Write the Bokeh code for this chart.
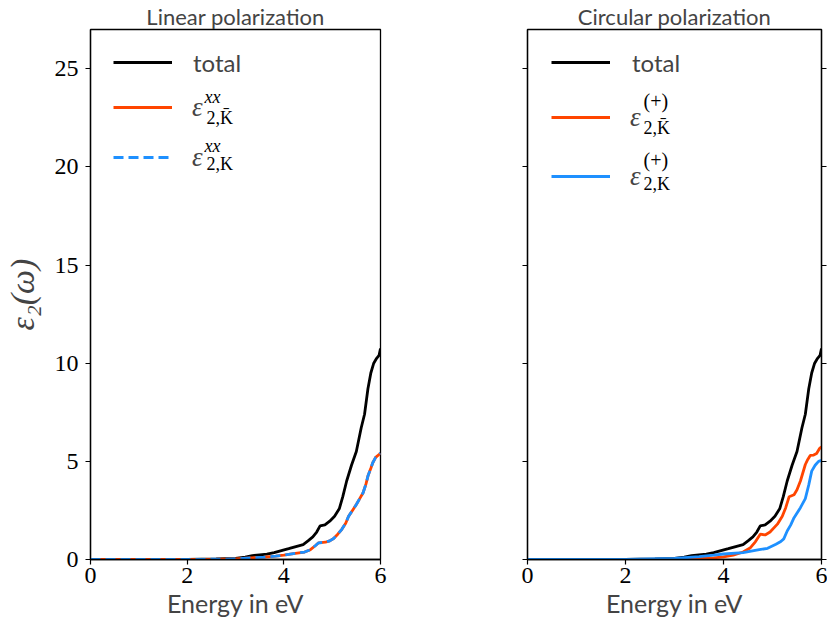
from bokeh.plotting import figure
from bokeh.models import Range1d, FixedTicker, LinearAxis, Legend, LegendItem, Label
from bokeh.layouts import row
from bokeh.embed import file_html
from bokeh.resources import INLINE

# ---------------- data ----------------
x_ticks = [0, 2, 4, 6]
y_ticks = [0, 5, 10, 15, 20, 25]

# total epsilon_2 (same in both panels)
e_total = [0.0, 1.0, 2.0, 2.6, 3.0, 3.2, 3.35, 3.5, 3.65, 3.8, 3.95, 4.1, 4.25, 4.4, 4.5,
           4.6, 4.68, 4.75, 4.85, 4.95, 5.05, 5.15, 5.22, 5.3, 5.4, 5.5, 5.6, 5.67, 5.74,
           5.8, 5.86, 5.92, 5.97, 6.0]
v_total = [0.0, 0.0, 0.01, 0.03, 0.06, 0.12, 0.2, 0.24, 0.27, 0.35, 0.45, 0.55, 0.66, 0.76, 0.95,
           1.15, 1.4, 1.71, 1.76, 1.95, 2.2, 2.6, 3.2, 4.0, 4.8, 5.5, 6.7, 7.4, 8.7,
           9.5, 10.0, 10.25, 10.4, 10.75]

# linear polarization: K-bar and K contributions (identical)
e_lin = [0.0, 1.0, 2.0, 2.6, 3.0, 3.3, 3.6, 3.83, 4.0, 4.2, 4.43, 4.55, 4.65, 4.72, 4.86, 4.95,
         5.03, 5.12, 5.2, 5.28, 5.34, 5.42, 5.5, 5.57, 5.64, 5.7, 5.74, 5.8, 5.84, 5.9, 5.97, 6.0]
v_lin_kbar = [0.0, 0.0, 0.005, 0.015, 0.03, 0.08, 0.12, 0.17, 0.22, 0.3, 0.38, 0.5, 0.7, 0.85, 0.88, 0.95,
              1.07, 1.3, 1.54, 1.85, 2.2, 2.5, 2.8, 3.1, 3.4, 3.85, 4.25, 4.65, 4.93, 5.2, 5.35, 5.42]
v_lin_k = [0.0, 0.0, 0.005, 0.015, 0.03, 0.08, 0.12, 0.17, 0.22, 0.3, 0.38, 0.5, 0.7, 0.85, 0.88, 0.95,
           1.07, 1.3, 1.54, 1.85, 2.2, 2.5, 2.8, 3.1, 3.4, 3.85, 4.25, 4.65, 4.93, 5.2, 5.35, 5.42]

# circular polarization (+)
e_circ_kbar = [0.0, 1.0, 2.0, 3.0, 3.5, 3.8, 4.0, 4.2, 4.4, 4.55, 4.65, 4.75, 4.85, 4.95, 5.1, 5.2,
               5.27, 5.34, 5.44, 5.5, 5.57, 5.67, 5.72, 5.77, 5.84, 5.9, 5.96, 6.0]
v_circ_kbar = [0.0, 0.0, 0.0, 0.01, 0.04, 0.08, 0.13, 0.22, 0.38, 0.6, 0.9, 1.29, 1.25, 1.4, 1.8, 2.2,
               2.64, 3.2, 3.3, 3.55, 4.0, 4.84, 5.1, 5.3, 5.32, 5.4, 5.65, 5.75]
e_circ_k = [0.0, 1.0, 2.0, 3.0, 3.5, 3.8, 4.0, 4.4, 4.73, 4.9, 5.07, 5.17, 5.23, 5.3, 5.37, 5.44,
            5.57, 5.67, 5.74, 5.8, 5.87, 5.94, 6.0]
v_circ_k = [0.0, 0.0, 0.01, 0.05, 0.15, 0.22, 0.28, 0.35, 0.5, 0.57, 0.78, 0.92, 1.05, 1.45, 1.75, 2.13,
            2.64, 3.1, 3.8, 4.5, 4.8, 5.0, 5.05]

titles = ["Linear polarization", "Circular polarization"]
x_label = "Energy in eV"
y_label = "ε₂(ω)"

# ---------------- styling ----------------
BLACK = "#000000"
ORANGE = "#FF4500"
BLUE = "#1E90FF"
SANS = "Lato"
SERIF = "Liberation Serif"
LW = 2.8

FIG_H = 626
TOP_B = 27
BOT_B = 67
FRAME_B = 8 + FIG_H - BOT_B  # page y of frame bottom (for placing legend annotations)


def make_fig(title, left_border, width, right_border, show_ylabels):
    p = figure(width=width, height=FIG_H, output_backend="svg", toolbar_location=None,
               x_range=Range1d(0, 6), y_range=Range1d(0, 27),
               min_border_left=left_border, min_border_right=right_border,
               min_border_top=TOP_B, min_border_bottom=BOT_B)
    p.title.text = title
    p.title.align = "center"
    p.title.text_font = SANS
    p.title.text_font_size = "22px"
    p.title.text_font_style = "normal"
    p.title.standoff = 0
    p.background_fill_color = "white"
    p.border_fill_color = "white"
    p.outline_line_color = "black"
    p.outline_line_width = 1.3
    p.outline_line_alpha = 1.0
    p.grid.visible = False
    for ax in (p.xaxis[0], p.yaxis[0]):
        ax.axis_line_color = "black"
        ax.axis_line_width = 1.3
        ax.major_tick_out = 5
        ax.major_tick_in = 0
        ax.major_tick_line_width = 1.2
        ax.minor_tick_line_color = None
        ax.major_label_text_font = SERIF
        ax.major_label_text_font_size = "24px"
        ax.major_label_text_color = "black"
    p.xaxis.ticker = FixedTicker(ticks=x_ticks)
    p.yaxis.ticker = FixedTicker(ticks=y_ticks)
    p.xaxis.major_label_standoff = 3
    p.xaxis.axis_label = x_label
    p.xaxis.axis_label_text_font = SANS
    p.xaxis.axis_label_text_font_size = "25px"
    p.xaxis.axis_label_text_font_style = "normal"
    p.xaxis.axis_label_standoff = 2
    p.yaxis.major_label_standoff = 7
    if show_ylabels:
        p.yaxis.axis_label = y_label
        p.yaxis.axis_label_text_font = SERIF
        p.yaxis.axis_label_text_font_size = "34px"
        p.yaxis.axis_label_text_font_style = "italic"
        p.yaxis.axis_label_standoff = 11
    else:
        p.yaxis.major_label_text_color = None
        ax_r = LinearAxis(ticker=FixedTicker(ticks=y_ticks), major_label_text_font_size="1px",
                          major_label_text_color=None,
                          major_tick_out=5, major_tick_in=0, major_label_standoff=0,
                          axis_line_color="black", axis_line_width=1.3,
                          major_tick_line_width=1.2, minor_tick_line_color=None)
        p.add_layout(ax_r, "right")
    return p


def add_entry(p, frame_left, renderer, line_y, x0, label, standoff, math=False):
    """single-item legend; swatch line at page y = line_y"""
    H = 32
    gh = 18 if math else H
    lg = Legend(items=[LegendItem(label=label, renderers=[renderer])],
                location=(x0 - frame_left, (FRAME_B - line_y) + gh / 2 - H),
                padding=0, margin=0, spacing=0,
                glyph_width=59, glyph_height=gh, label_height=H,
                label_standoff=standoff,
                label_text_font=SERIF if math else SANS,
                label_text_font_style="italic" if math else "normal",
                label_text_font_size="27px" if math else "24px",
                border_line_alpha=0, background_fill_alpha=0)
    p.add_layout(lg, "center")


def add_text(p, frame_left, px, py, text, size, style="normal"):
    p.add_layout(Label(x=px - frame_left, y=FRAME_B - py, x_units="screen", y_units="screen",
                       text=text, text_font=SERIF, text_font_size=size, text_font_style=style,
                       text_baseline="middle", text_align="left", text_color="black"))


# ---------------- left panel ----------------
FL1 = 92
p1 = make_fig(titles[0], 84, 452, 72, True)
r_tot1 = p1.line(e_total, v_total, line_color=BLACK, line_width=LW)
r_kb1 = p1.line(e_lin, v_lin_kbar, line_color=ORANGE, line_width=LW)
r_k1 = p1.line(e_lin, v_lin_k, line_color=BLUE, line_width=LW, line_dash="10 5")

add_entry(p1, FL1, r_tot1, 70, 115, "total", 21)
add_entry(p1, FL1, r_kb1, 108, 115, "ε", 20, math=True)
add_entry(p1, FL1, r_k1, 158, 115, "ε", 20, math=True)
add_text(p1, FL1, 206, 104, "xx", "18px", "italic")
add_text(p1, FL1, 208, 125, "2,K\u0304", "18px")
add_text(p1, FL1, 206, 153, "xx", "18px", "italic")
add_text(p1, FL1, 208, 171, "2,K", "18px")

# ---------------- right panel ----------------
FL2 = 535
p2 = make_fig(titles[1], 75, 375, 6, False)
r_tot2 = p2.line(e_total, v_total, line_color=BLACK, line_width=LW)
r_kb2 = p2.line(e_circ_kbar, v_circ_kbar, line_color=ORANGE, line_width=LW)
r_k2 = p2.line(e_circ_k, v_circ_k, line_color=BLUE, line_width=LW)

add_entry(p2, FL2, r_tot2, 70, 559, "total", 22)
add_entry(p2, FL2, r_kb2, 118, 559, "ε", 20, math=True)
add_entry(p2, FL2, r_k2, 177, 559, "ε", 20, math=True)
add_text(p2, FL2, 651, 108, "(+)", "20px")
add_text(p2, FL2, 651, 135, "2,K\u0304", "18px")
add_text(p2, FL2, 651, 167, "(+)", "20px")
add_text(p2, FL2, 651, 191, "2,K", "18px")

layout = row(p1, p2)
open("out.html", "w").write(file_html(layout, INLINE))
